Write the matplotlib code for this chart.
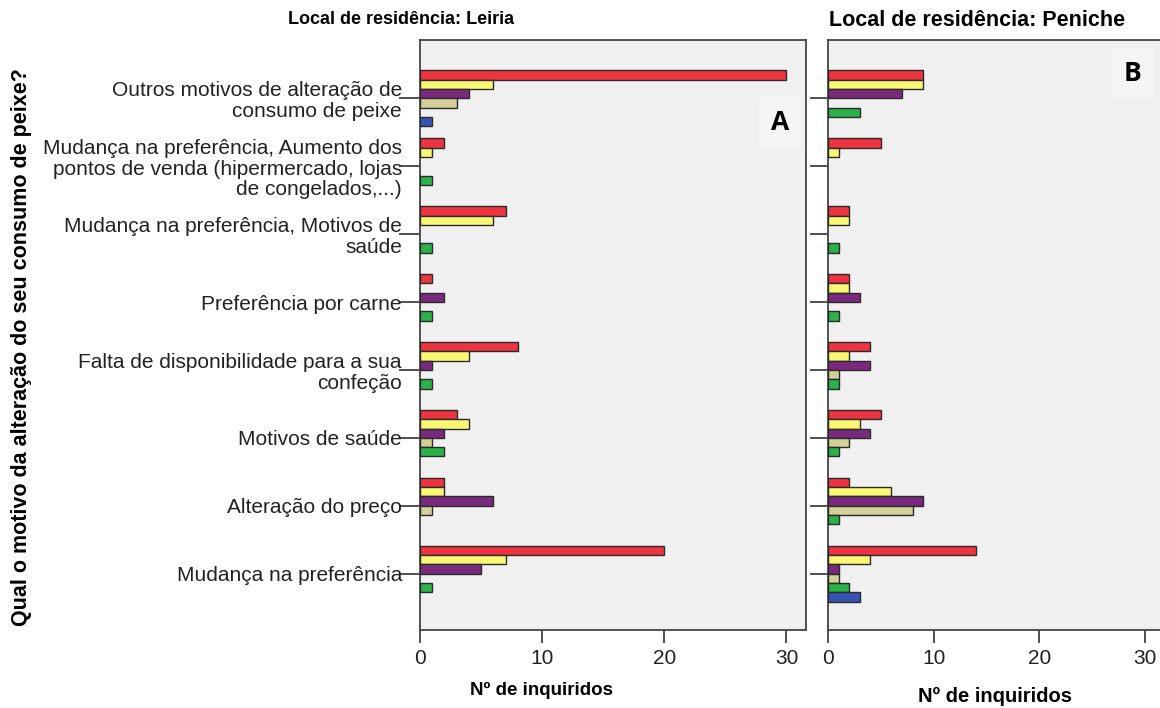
import matplotlib
matplotlib.use("Agg")
import matplotlib.pyplot as plt
import numpy as np

plt.rcParams['font.family'] = ['Liberation Sans', 'DejaVu Sans']

categories = [
    "Mudança na preferência",
    "Alteração do preço",
    "Motivos de saúde",
    "Falta de disponibilidade para a sua\nconfeção",
    "Preferência por carne",
    "Mudança na preferência, Motivos de\nsaúde",
    "Mudança na preferência, Aumento dos\npontos de venda (hipermercado, lojas\nde congelados,...)",
    "Outros motivos de alteração de\nconsumo de peixe",
]

series_colors = ['#ee3440', '#f7f774', '#7a2a7e', '#d5cf98', '#2bb24a', '#3754b2']

# Leiria: one list per series (top to bottom within a group), values per category (bottom to top)
leiria_s1 = [20, 2, 3, 8, 1, 7, 2, 30]
leiria_s2 = [7, 2, 4, 4, 0, 6, 1, 6]
leiria_s3 = [5, 6, 2, 1, 2, 0, 0, 4]
leiria_s4 = [0, 1, 1, 0, 0, 0, 0, 3]
leiria_s5 = [1, 0, 2, 1, 1, 1, 1, 0]
leiria_s6 = [0, 0, 0, 0, 0, 0, 0, 1]

peniche_s1 = [14, 2, 5, 4, 2, 2, 5, 9]
peniche_s2 = [4, 6, 3, 2, 2, 2, 1, 9]
peniche_s3 = [1, 9, 4, 4, 3, 0, 0, 7]
peniche_s4 = [1, 8, 2, 1, 0, 0, 0, 0]
peniche_s5 = [2, 1, 1, 1, 1, 1, 0, 3]
peniche_s6 = [3, 0, 0, 0, 0, 0, 0, 0]

x_ticks = [0, 10, 20, 30]

fig = plt.figure(figsize=(11.6, 7.08), dpi=100)
W, H = 1160, 708

def ax_rect(x0, x1, ytop, ybot):
    return [x0 / W, 1 - ybot / H, (x1 - x0) / W, (ybot - ytop) / H]

axA = fig.add_axes(ax_rect(420, 806, 40, 630))
axB = fig.add_axes(ax_rect(828, 1162, 40, 630))

h = 0.137
ypos = np.arange(len(categories))

def draw(ax, series_list):
    ax.set_facecolor('#f0f0f0')
    for k, (vals, col) in enumerate(zip(series_list, series_colors)):
        off = (2.5 - k) * h
        v = np.asarray(vals, dtype=float)
        m = v > 0
        ax.barh(ypos[m] + off, v[m], height=h, color=col, edgecolor='#2a2a2a',
                linewidth=1.0, zorder=3)
    ax.set_xlim(0, 31.6)
    ax.set_ylim(-0.83, 7.86)
    ax.set_xticks(x_ticks)
    ax.set_xticklabels([str(t) for t in x_ticks], fontsize=15, color='#222222')
    ax.tick_params(axis='x', direction='out', length=9, width=1.2, color='#333333', pad=5)
    ax.set_yticks(ypos)
    for s in ax.spines.values():
        s.set_color('#444444')
        s.set_linewidth(1.3)

draw(axA, [leiria_s1, leiria_s2, leiria_s3, leiria_s4, leiria_s5, leiria_s6])
draw(axB, [peniche_s1, peniche_s2, peniche_s3, peniche_s4, peniche_s5, peniche_s6])

axA.set_yticklabels(categories, fontsize=15, color='#222222', linespacing=1.12)
axA.tick_params(axis='y', direction='out', length=15, width=1.2, color='#333333', pad=-2)
axB.set_yticklabels([])
axB.tick_params(axis='y', direction='out', length=13, width=1.2, color='#333333')

fig.text(401 / W, 1 - 19 / H, "Local de residência: Leiria", ha='center', va='center',
         fontsize=13, fontweight='bold')
fig.text(977 / W, 1 - 21 / H, "Local de residência: Peniche", ha='center', va='center',
         fontsize=15.5, fontweight='bold')
fig.text(541 / W, 1 - 690 / H, "Nº de inquiridos", ha='center', va='center',
         fontsize=13.5, fontweight='bold')
fig.text(995 / W, 1 - 696 / H, "Nº de inquiridos", ha='center', va='center',
         fontsize=14.5, fontweight='bold')
fig.text(22 / W, 1 - 347 / H, "Qual o motivo da alteração do seu consumo de peixe?",
         ha='center', va='center', rotation=90, fontsize=15.5, fontweight='bold')

axA.text(0.933, 0.861, "A", transform=axA.transAxes, ha='center', va='center',
         fontsize=19, fontweight='bold', family=['Open Sans', 'DejaVu Sans'],
         bbox=dict(boxstyle='square,pad=0.45', fc='#f5f5f5', ec='none'), zorder=5)
axB.text(0.913, 0.944, "B", transform=axB.transAxes, ha='center', va='center',
         fontsize=19, fontweight='bold', family=['Open Sans', 'DejaVu Sans'],
         bbox=dict(boxstyle='square,pad=0.45', fc='#f5f5f5', ec='none'), zorder=5)

fig.savefig("out.png", dpi=100)
